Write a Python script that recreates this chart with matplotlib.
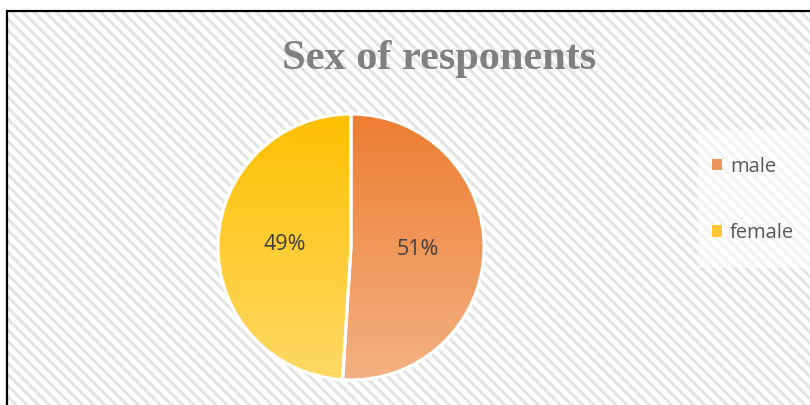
import numpy as np
import matplotlib.pyplot as plt
from matplotlib.patches import Rectangle
from matplotlib.colors import LinearSegmentedColormap

labels = ['male', 'female']
shares = [51, 49]
title = 'Sex of responents'

# gradient ends (top, bottom) for each slice
grad_colors = [('#ED7D31', '#F4B183'), ('#FFC000', '#FFD966')]
legend_colors = ['#F0955A', '#FFC832']

W, H = 810, 405
plt.rcParams['hatch.linewidth'] = 2.2

fig = plt.figure(figsize=(W / 100, H / 100), dpi=100)

# background: striped panel with black frame on left/top
bg = fig.add_axes([0, 0, 1, 1])
bg.set_xlim(0, W)
bg.set_ylim(H, 0)
bg.axis('off')
bg.add_patch(Rectangle((7, 11), W - 7, H - 11, facecolor='white',
                       edgecolor='#e4e4e4', hatch='\\\\\\', lw=0))
bg.add_patch(Rectangle((698, 130), W - 698, 138, facecolor='white',
                       alpha=0.55, lw=0))
bg.plot([7, 7], [H, 10], color='black', lw=1.6, solid_capstyle='butt')
bg.plot([6, W], [11, 11], color='black', lw=1.6, solid_capstyle='butt')

# pie
cx, cy, r = 351, 247, 133 * 1.02
ax = fig.add_axes([(cx - r) / W, (H - cy - r) / H, 2 * r / W, 2 * r / H])
wedges, texts, autotexts = ax.pie(shares, startangle=90, counterclock=False,
                                  autopct='%1.0f%%', pctdistance=0.5,
                                  wedgeprops=dict(edgecolor='white', linewidth=2.2),
                                  textprops=dict(color='#404040', fontsize=15.5,
                                                 family='Open Sans'))
ax.set_aspect('equal')
ax.axis('off')

grad = np.linspace(0, 1, 256).reshape(-1, 1)
for w, (top, bot) in zip(wedges, grad_colors):
    cmap = LinearSegmentedColormap.from_list('g', [top, bot])
    im = ax.imshow(grad, cmap=cmap, extent=[-1, 1, -1, 1], origin='upper',
                   aspect='auto', zorder=0.5)
    im.set_clip_path(w)
    w.set_facecolor('none')
ax.set_xlim(-1.02, 1.02)
ax.set_ylim(-1.02, 1.02)

fig.text(439 / W, 1 - 59 / H, title, ha='center', va='center',
         family='Liberation Serif', fontweight='bold', fontsize=30.5,
         color='#808080')

handles = [Rectangle((0, 0), 1, 1, facecolor=c, edgecolor='none')
           for c in legend_colors]
fig.legend(handles, labels, loc='center left',
           bbox_to_anchor=(694 / W, 1 - 200 / H), frameon=False,
           handlelength=0.5, handleheight=0.5, handletextpad=0.4,
           labelspacing=2.3, prop=dict(family='Open Sans', size=14.5),
           labelcolor='#595959')

fig.savefig('out.png', dpi=100)
